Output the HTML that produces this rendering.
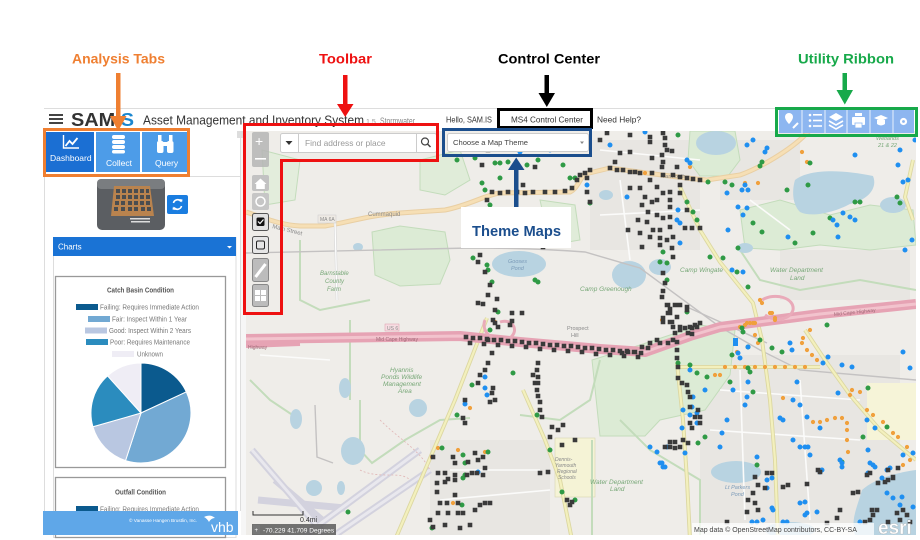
<!DOCTYPE html>
<html><head><meta charset="utf-8"><style>
html,body{margin:0;padding:0;background:#fff;}
body{width:920px;height:540px;overflow:hidden;}
svg{display:block;font-family:"Liberation Sans",Arial,sans-serif;}
</style></head><body>
<svg width="920" height="540" viewBox="0 0 920 540" xmlns="http://www.w3.org/2000/svg">
<defs><clipPath id="mc"><rect x="246" y="131" width="670" height="404"/></clipPath></defs>
<rect width="920" height="540" fill="#fff"/>

<!-- ================= MAP ================= -->
<g clip-path="url(#mc)">
<rect x="246" y="131" width="670" height="404" fill="#efede9"/>
<g fill="#e8e6e2">
<rect x="590" y="140" width="110" height="110"/><rect x="700" y="355" width="200" height="170"/><rect x="430" y="440" width="120" height="95"/><rect x="720" y="140" width="80" height="60"/><rect x="780" y="250" width="130" height="50"/>
</g>
<g fill="#dcebd5" stroke="#c3dcbb" stroke-width="1">
<path d="M372,232 L400,226 L445,232 L450,260 L440,284 L400,286 L375,275 Z"/>
<path d="M690,131 L735,131 L740,160 L728,176 L700,176 L688,160 Z"/>
<path d="M740,210 L780,200 L830,215 L870,205 L913,210 L916,245 L870,250 L820,245 L780,250 L745,248 Z"/>
<path d="M592,360 L640,345 L700,325 L735,330 L730,375 L705,410 L660,420 L645,436 L600,436 Z"/>
<path d="M420,160 L460,150 L470,180 L445,195 L420,190 Z" fill="#e0ecd9"/>
<path d="M262,150 L300,160 L295,200 L265,205 Z" fill="#e3eddc"/>
<path d="M540,200 L575,205 L580,240 L550,245 Z" fill="#e0ecd9"/>
</g>
<rect x="555" y="438" width="40" height="59" fill="#f5f3d6" stroke="#d9d6b0" stroke-width=".6"/>
<rect x="867" y="383" width="52" height="57" fill="#f6f4d8"/>
<g fill="none" stroke="#c3dcbb" stroke-width="2">
<path d="M360,400 L360,450 L372,463 L405,440 L440,420 L470,418"/>
<path d="M350,320 L350,400"/>
<path d="M520,415 L560,420 L590,400 L600,360"/>
<path d="M592,440 L592,535"/>
<path d="M620,420 L650,450 L700,480 L700,535"/>
<path d="M300,240 L300,300 L320,310 L370,300"/>
<path d="M740,250 L760,280 L800,290 L860,280 L916,290"/>
<path d="M250,380 L270,400 L300,420"/>
</g>
<g fill="#b8d3e1">
<ellipse cx="519" cy="264" rx="27" ry="13"/>
<path d="M795,180 C810,168 845,170 873,176 C878,188 868,200 850,204 C835,212 812,218 800,212 C792,204 792,190 795,180Z"/>
<ellipse cx="716" cy="143" rx="20" ry="12"/>
<ellipse cx="606" cy="195" rx="7" ry="5"/>
<ellipse cx="629" cy="275" rx="17" ry="14"/>
<ellipse cx="660" cy="267" rx="11" ry="8"/>
<ellipse cx="745" cy="248" rx="8" ry="5"/>
<ellipse cx="893" cy="205" rx="13" ry="8"/>
<ellipse cx="358" cy="247" rx="5" ry="4"/>
<ellipse cx="353" cy="451" rx="12" ry="14"/>
<ellipse cx="296" cy="419" rx="6" ry="10"/>
<ellipse cx="314" cy="488" rx="8" ry="8"/>
<ellipse cx="341" cy="488" rx="4" ry="7"/>
<ellipse cx="418" cy="408" rx="9" ry="9"/>
<ellipse cx="345" cy="388" rx="6" ry="10"/>
<ellipse cx="736" cy="472" rx="25" ry="11"/>
<path d="M862,490 C875,478 900,472 916,470 L916,535 L855,535 C850,520 858,505 862,490Z"/>
<ellipse cx="790" cy="530" rx="25" ry="8"/>
</g>
<g fill="none" stroke="#d3d2de" stroke-width="7" stroke-linecap="butt">
<path d="M252,450 L325,535"/>
<path d="M275,480 L322,520"/>
<path d="M305,535 L420,450"/>
<path d="M335,535 L430,470"/>
<path d="M258,500 L345,508"/>
</g>
<g fill="none" stroke="#e9e8ee" stroke-width="3">
<path d="M252,450 L325,535"/><path d="M305,535 L420,450"/><path d="M335,535 L430,470"/>
</g>
<g fill="none" stroke="#c4c2c2" stroke-width="1.4">
<path d="M246,253 L470,248 C520,248 560,250 585,252 L640,268 L720,327 L760,350 L800,370 L916,380"/>
<path d="M315,405 L317,457 L333,463"/>
<path d="M687,307 L767,343"/>
</g>
<g fill="none" stroke="#e0b5b5" stroke-width="0.8" stroke-dasharray="2,2">
<path d="M380,420 C400,440 420,450 430,470"/><path d="M360,470 C380,480 400,470 410,480"/>
</g>
<g fill="none" stroke="#fbfbfa" stroke-width="1.6">
<path d="M600,150 L700,160"/><path d="M600,215 L700,210"/><path d="M620,180 L630,260"/>
<path d="M720,390 L860,400"/><path d="M710,430 L860,440"/><path d="M740,370 L745,520"/>
<path d="M800,380 L810,520"/><path d="M450,470 L540,470"/><path d="M440,500 L550,490"/>
<path d="M260,355 L330,360"/><path d="M750,200 L790,230"/>
</g>
<path d="M246,212 C265,218 280,225 300,226 L325,226 C350,222 370,215 400,213 L445,210 C470,205 485,195 500,193 L570,192 C578,188 580,178 585,174 L610,168 C640,172 680,178 707,180 L740,175 C760,168 790,150 805,135 L815,125" fill="none" stroke="#e9cfa3" stroke-width="5"/>
<path d="M246,212 C265,218 280,225 300,226 L325,226 C350,222 370,215 400,213 L445,210 C470,205 485,195 500,193 L570,192 C578,188 580,178 585,174 L610,168 C640,172 680,178 707,180 L740,175 C760,168 790,150 805,135 L815,125" fill="none" stroke="#f6dfb5" stroke-width="3"/>
<g fill="none" stroke="#dcd7a2" stroke-width="4">
<path d="M487,318 L455,400 L425,470 L395,540"/>
<path d="M523,390 L545,440 L560,480 L572,540"/>
<path d="M680,187 L700,230 L720,262 L753,303 L762,340 L770,400 L775,460 L778,540"/>
<path d="M805,330 L825,360 L850,395 L880,430 L916,460"/>
<path d="M677,363 L683,420 L687,480 L690,540"/>
<path d="M680,367 L820,367"/>
<path d="M913,160 L905,197 L913,220"/>
</g>
<g fill="none" stroke="#f3f0bd" stroke-width="2.2">
<path d="M487,318 L455,400 L425,470 L395,540"/>
<path d="M523,390 L545,440 L560,480 L572,540"/>
<path d="M680,187 L700,230 L720,262 L753,303 L762,340 L770,400 L775,460 L778,540"/>
<path d="M805,330 L825,360 L850,395 L880,430 L916,460"/>
<path d="M677,363 L683,420 L687,480 L690,540"/>
<path d="M680,367 L820,367"/>
<path d="M913,160 L905,197 L913,220"/>
</g>
<path d="M335,222 L337,300" stroke="#d8d8d8" stroke-width="2.5" fill="none"/>
<path d="M335,222 L337,300" stroke="#fff" stroke-width="1.2" fill="none"/>
<g fill="none" stroke-linejoin="round">
<path d="M246,339 L460,336 L520,342 L600,349 L645,352 L690,336 L720,327 L820,314 L916,304" stroke="#e6a3b4" stroke-width="10"/>
<path d="M246,339 L460,336 L520,342 L600,349 L645,352 L690,336 L720,327 L820,314 L916,304" stroke="#f2c3cd" stroke-width="3"/>
<path d="M246,346 L300,344" stroke="#e6a3b4" stroke-width="4"/>
<path d="M485,320 C480,332 495,345 510,338 C520,330 512,318 500,322" stroke="#e9aab9" stroke-width="3"/>
<path d="M762,300 C775,292 795,298 793,310 C790,320 775,322 765,315" stroke="#e9aab9" stroke-width="3"/>
</g>
<g font-size="6" fill="#8a8a8a">
<text x="368" y="216">Cummaquid</text>
<text x="272" y="228" transform="rotate(14 272 228)">Main Street</text>
<rect x="318" y="215" width="18" height="8" fill="#eeeae4" stroke="#ccc" stroke-width=".5"/><text x="320" y="221" font-size="5">MA 6A</text>
<rect x="385" y="324" width="14" height="7" fill="#f6dde2" stroke="#d9a" stroke-width=".5"/><text x="387" y="330" font-size="5">US 6</text>
<text x="376" y="341" font-size="5" fill="#a06a78">Mid Cape Highway</text>
<text x="834" y="316" font-size="5" fill="#a06a78" transform="rotate(-6 834 316)">Mid Cape Highway</text>
<text x="248" y="349" font-size="5" fill="#a06a78">Highway</text>
<text x="567" y="330" font-size="5.5">Prospect</text><text x="571" y="337" font-size="5.5">Hill</text>
<text x="662" y="178" font-size="5.5">Yarmouth</text>
</g>
<g font-size="6" fill="#78a878" font-style="italic">
<text x="320" y="275">Barnstable</text><text x="325" y="283">County</text><text x="327" y="291">Farm</text>
<text x="580" y="291" font-size="6.5">Camp Greenough</text>
<text x="680" y="272" font-size="6.5">Camp Wingate</text>
<text x="770" y="272" font-size="6.5">Water Department</text><text x="790" y="280" font-size="6.5">Land</text>
<text x="390" y="372" font-size="6.5">Hyannis</text><text x="381" y="379" font-size="6.5">Ponds Wildlife</text><text x="383" y="386" font-size="6.5">Management</text><text x="398" y="393" font-size="6.5">Area</text>
<text x="590" y="484" font-size="6.5">Water Department</text><text x="610" y="491" font-size="6.5">Land</text>
<text x="555" y="461" font-size="5" fill="#8a8a8a">Dennis-</text><text x="555" y="467" font-size="5" fill="#8a8a8a">Yarmouth</text><text x="557" y="473" font-size="5" fill="#8a8a8a">Regional</text><text x="558" y="479" font-size="5" fill="#8a8a8a">Schools</text>
<text x="876" y="140" font-size="5.5">Wetlands</text><text x="878" y="147" font-size="5.5">21 &amp; 22</text>
</g>
<g font-size="5.5" fill="#7a9ab8" font-style="italic">
<text x="508" y="263">Gooses</text><text x="511" y="270">Pond</text>
<text x="725" y="489">Lt Parkers</text><text x="731" y="496">Pond</text>
</g>

<path fill="none" stroke="#f0a03c" stroke-width="4.2" stroke-linecap="round" d="M725,367h0M735,367h0M745,367h0M755,367h0M765,367h0M775,367h0M785,367h0M795,367h0M805,367h0M817,360h0M812,355h0M807,350h0M802,343h0M803,338h0M810,330h0M775,318h0M770,313h0M762,303h0M745,325h0M750,323h0M755,323h0M755,335h0M737,352h0M715,375h0M720,375h0M783,398h0M813,422h0M820,422h0M827,420h0M835,418h0M842,418h0M847,423h0M847,430h0M847,440h0M848,452h0M852,390h0M860,392h0M867,410h0M873,415h0M883,422h0M893,433h0M898,437h0M907,447h0M910,460h0M903,465h0M850,395h0M758,343h0M758,183h0M745,183h0M802,152h0M807,162h0M690,167h0M645,173h0M760,300h0M772,313h0M775,320h0M747,323h0M753,323h0M740,327h0M662,320h0M495,322h0M465,403h0M470,408h0M438,448h0M458,450h0M485,452h0M453,503h0M432,457h0"/>
<path fill="none" stroke="#2f9a45" stroke-width="5" stroke-linecap="round" d="M457,160h0M475,158h0M495,163h0M500,163h0M508,162h0M527,165h0M538,160h0M563,165h0M570,178h0M575,178h0M500,178h0M482,183h0M485,190h0M490,205h0M473,258h0M487,265h0M488,270h0M492,282h0M538,282h0M535,280h0M490,330h0M498,312h0M678,135h0M762,162h0M760,166h0M810,163h0M708,182h0M725,182h0M732,185h0M787,190h0M808,185h0M687,202h0M693,212h0M697,220h0M753,223h0M762,232h0M738,248h0M813,233h0M795,243h0M830,218h0M855,202h0M860,202h0M897,197h0M900,203h0M590,203h0M663,252h0M660,262h0M667,263h0M667,280h0M710,257h0M723,258h0M737,272h0M748,287h0M687,312h0M742,328h0M743,332h0M760,340h0M748,347h0M772,348h0M782,352h0M827,325h0M732,355h0M748,368h0M750,372h0M678,363h0M690,365h0M697,373h0M707,377h0M730,382h0M753,392h0M705,437h0M698,443h0M868,388h0M863,437h0M887,427h0M842,462h0M757,465h0M513,373h0M472,385h0M457,415h0M537,415h0M550,450h0M562,492h0M575,500h0M442,448h0M488,452h0M463,455h0M465,463h0M465,475h0M463,478h0M462,505h0M432,528h0M348,512h0"/>
<path fill="none" stroke="#1f8ff0" stroke-width="5" stroke-linecap="round" d="M610,145h0M645,132h0M687,160h0M690,163h0M747,145h0M753,140h0M767,148h0M765,152h0M855,155h0M898,165h0M903,182h0M908,180h0M727,193h0M742,190h0M748,190h0M745,185h0M738,207h0M747,208h0M743,215h0M728,230h0M788,237h0M833,220h0M837,225h0M843,213h0M850,217h0M855,220h0M838,237h0M587,185h0M627,197h0M678,210h0M677,220h0M680,223h0M732,270h0M743,272h0M680,243h0M690,370h0M693,397h0M692,407h0M683,410h0M690,415h0M697,413h0M682,428h0M697,423h0M705,390h0M722,433h0M727,420h0M733,390h0M747,397h0M745,405h0M748,382h0M740,358h0M738,353h0M748,347h0M792,350h0M790,343h0M828,357h0M842,365h0M852,367h0M823,363h0M903,352h0M910,368h0M797,382h0M793,400h0M800,405h0M780,418h0M783,420h0M807,417h0M820,428h0M838,393h0M793,440h0M800,447h0M805,447h0M808,447h0M810,455h0M820,472h0M840,460h0M842,467h0M868,450h0M867,420h0M875,428h0M903,455h0M913,453h0M873,465h0M650,447h0M657,452h0M667,447h0M685,453h0M720,447h0M660,463h0M663,467h0M757,457h0M662,463h0M665,467h0M767,480h0M772,478h0M822,470h0M842,463h0M870,463h0M875,467h0M868,473h0M887,470h0M890,468h0M882,478h0M767,488h0M805,502h0M800,503h0M772,508h0M773,510h0M807,513h0M805,515h0M817,512h0M752,522h0M757,522h0M763,520h0M783,522h0M787,522h0M860,522h0M887,493h0M893,498h0M900,505h0M913,507h0M902,497h0M485,377h0M485,388h0M487,395h0M465,404h0M478,472h0M512,140h0M520,152h0M550,150h0M915,140h0M900,150h0M912,240h0M905,250h0"/>
<rect x="733" y="338" width="5" height="8" fill="#1f8ff0"/>
<path fill="none" stroke="#3a3a3a" stroke-width="4.6" stroke-linecap="square" d="M482,165h0M523,185h0M535,167h0M492,192h0M500,193h0M508,192h0M517,192h0M525,193h0M533,192h0M545,192h0M555,192h0M565,191h0M572,188h0M577,180h0M487,200h0M490,210h0M488,222h0M483,215h0M480,255h0M478,262h0M485,272h0M490,285h0M488,295h0M497,299h0M478,303h0M483,304h0M512,313h0M522,313h0M495,310h0M493,320h0M498,327h0M543,247h0M497,142h0M488,150h0M630,135h0M650,137h0M663,133h0M665,138h0M650,142h0M665,145h0M667,150h0M672,151h0M662,155h0M663,162h0M662,167h0M652,158h0M630,152h0M620,153h0M615,162h0M610,168h0M617,170h0M623,170h0M630,172h0M635,172h0M640,173h0M652,173h0M663,175h0M677,167h0M673,175h0M680,177h0M687,178h0M693,179h0M700,180h0M590,170h0M585,173h0M580,175h0M640,188h0M630,188h0M650,180h0M657,187h0M670,192h0M663,193h0M680,185h0M680,193h0M645,197h0M642,205h0M652,202h0M657,200h0M670,200h0M670,207h0M648,212h0M657,215h0M670,217h0M663,218h0M687,210h0M638,220h0M647,222h0M653,230h0M660,230h0M670,227h0M685,228h0M692,228h0M700,228h0M640,233h0M650,237h0M660,238h0M667,240h0M673,237h0M642,247h0M660,245h0M672,248h0M673,257h0M663,273h0M665,283h0M662,297h0M663,291h0M668,305h0M675,305h0M680,305h0M670,313h0M677,317h0M687,310h0M663,322h0M672,322h0M680,327h0M690,327h0M695,325h0M700,323h0M587,192h0M590,202h0M628,230h0M587,178h0M600,140h0M607,133h0
M466,337h0M473,338h0M480,338h0M487,339h0M494,340h0M501,340h0M508,341h0M515,341h0M522,342h0M529,343h0M536,343h0M543,344h0M550,345h0M557,345h0M564,346h0M571,346h0M578,347h0M585,348h0M592,348h0M599,349h0M606,350h0M613,350h0M620,351h0M627,351h0M634,352h0M641,353h0M470,343h0M484,344h0M498,345h0M512,346h0M526,347h0M540,349h0M554,350h0M568,351h0M582,352h0M596,354h0M610,355h0M624,356h0M638,357h0
M495,323h0M510,325h0M512,321h0M488,340h0M492,353h0M488,363h0M485,370h0M480,375h0M478,383h0M493,388h0M492,393h0M495,400h0M490,402h0M465,400h0M463,418h0M465,423h0M538,363h0M537,370h0M538,377h0M538,383h0M537,390h0M538,396h0M540,402h0M540,410h0M542,417h0M533,375h0M535,383h0M552,427h0M558,430h0M563,425h0M550,437h0M562,445h0M575,440h0M540,473h0M548,472h0M567,500h0M572,502h0M570,505h0M433,457h0M453,457h0M455,463h0M468,462h0M478,460h0M475,453h0M483,457h0M445,473h0M455,475h0M455,480h0M445,482h0M448,479h0M438,473h0M472,473h0M477,473h0M483,475h0M485,468h0M467,475h0M437,483h0M437,492h0M440,503h0M447,503h0M455,495h0M458,503h0M475,510h0M480,505h0M485,503h0M490,503h0M448,513h0M458,513h0M463,513h0M438,513h0M430,520h0M433,527h0M445,525h0M460,528h0M470,525h0
M667,305h0M670,309h0M677,305h0M687,307h0M668,313h0M670,322h0M663,318h0M673,327h0M680,330h0M685,328h0M692,328h0M697,327h0M688,333h0M692,334h0M675,333h0M673,340h0M677,342h0M668,343h0M660,343h0M657,340h0M650,343h0M648,348h0M635,352h0M628,352h0M622,353h0M642,347h0M677,350h0M677,358h0M678,367h0M678,378h0M682,383h0M687,385h0M688,392h0M690,397h0M690,407h0M698,410h0M695,417h0M700,417h0M690,423h0M692,428h0M700,423h0M670,442h0M675,442h0M683,440h0M688,443h0M670,447h0M675,448h0M680,447h0M665,447h0M767,473h0M772,473h0M818,470h0M867,475h0M870,473h0M888,470h0M898,468h0M893,477h0
M755,477h0M758,485h0M765,488h0M753,493h0M748,500h0M755,503h0M758,510h0M747,512h0M727,522h0M788,485h0M783,487h0M807,484h0M820,472h0M827,523h0M837,518h0M840,510h0M853,493h0M858,492h0M878,483h0M885,482h0M888,480h0M893,478h0M872,510h0M873,515h0M870,520h0M865,522h0M897,513h0M903,510h0M907,515h0M900,520h0M910,522h0M888,522h0M877,510h0"/>

<path d="M253,511 v4 h50 v-4" fill="none" stroke="#333" stroke-width="1"/>
<text x="300" y="522" font-size="7" fill="#333">0.4mi</text>
<rect x="252" y="524" width="84" height="11" fill="#5a5a5a" opacity=".85"/>
<rect x="253" y="525" width="7" height="9" fill="#777"/>
<text x="254.5" y="532" font-size="6" fill="#fff">+</text>
<text x="263" y="532.5" font-size="6.6" fill="#fff">-70.229 41.709 Degrees</text>
<rect x="692" y="523" width="182" height="12" fill="#fff" opacity=".75"/>
<text x="694" y="532" font-size="7" fill="#444">Map data © OpenStreetMap contributors, CC-BY-SA</text>
<text x="878" y="534" font-size="19" font-weight="bold" fill="#fff" stroke="#aaa" stroke-width=".3">esri</text>
</g>

<rect x="252" y="132" width="17" height="35" rx="2" fill="#b5b5b5" opacity=".85"/>
<text x="255" y="146" font-size="14" fill="#fff">+</text>
<rect x="255" y="158" width="11" height="1.6" fill="#fff"/>
<rect x="252" y="175" width="17" height="16" rx="2" fill="#c2c2c2"/>
<path d="M254.5,184 L260.5,178.5 L266.5,184 H264.8 V189 H256.2 V184 Z" fill="#fff"/>
<rect x="252" y="193" width="17" height="17" rx="2" fill="#c6c6c6"/>
<circle cx="260.5" cy="201.5" r="4.5" fill="none" stroke="#fff" stroke-width="1.5"/>
<rect x="252.5" y="213.5" width="16" height="17" rx="2" fill="#e2e2e2" stroke="#555" stroke-width="1"/>
<rect x="256.5" y="217.5" width="8" height="8.5" rx="1.5" fill="#111"/>
<path d="M258,221.5 l2,2 l3.5,-4" fill="none" stroke="#fff" stroke-width="1.2"/>
<rect x="252.5" y="236.5" width="16" height="17" rx="2" fill="#e6e6e6" stroke="#555" stroke-width="1"/>
<rect x="256.5" y="241" width="8" height="8" rx="1.5" fill="none" stroke="#222" stroke-width="1"/>
<rect x="252.5" y="258.5" width="16" height="23" rx="2" fill="#bcbcbc" stroke="#888" stroke-width="1"/>
<path d="M255.5,277 L265.5,264" stroke="#fff" stroke-width="3"/>
<rect x="252.5" y="284.5" width="16" height="22" rx="2" fill="#bcbcbc" stroke="#888" stroke-width="1"/>
<g fill="#fff"><rect x="255" y="290" width="5" height="5"/><rect x="261" y="290" width="5" height="5"/><rect x="255" y="296" width="5" height="5"/><rect x="261" y="296" width="5" height="5"/></g>

<rect x="280.5" y="133.5" width="156" height="19" rx="2" fill="#fff" stroke="#ccc"/>
<line x1="298.5" y1="133.5" x2="298.5" y2="152.5" stroke="#ccc"/>
<line x1="416.5" y1="133.5" x2="416.5" y2="152.5" stroke="#ccc"/>
<path d="M285.5,141 h7 l-3.5,4 z" fill="#333"/>
<text x="305" y="146" font-size="8.4" fill="#999">Find address or place</text>
<circle cx="425" cy="141.5" r="3.5" fill="none" stroke="#444" stroke-width="1.2"/>
<path d="M427.5,144 l3,3" stroke="#444" stroke-width="1.5"/>

<rect x="447.5" y="133.5" width="141" height="18" rx="2" fill="#fff" stroke="#ccc"/>
<text x="453" y="145" font-size="7.6" fill="#444">Choose a Map Theme</text>
<path d="M580,141.5 h4 l-2,2.5 z" fill="#888"/>

<!-- ================= LEFT PANEL ================= -->
<rect x="43" y="131" width="203" height="404" fill="#fff"/>
<line x1="44.5" y1="131" x2="44.5" y2="511" stroke="#ddd"/>
<line x1="240.5" y1="131" x2="240.5" y2="511" stroke="#ddd"/>
<rect x="241" y="131" width="5" height="404" fill="#f6f6f6"/>
<rect x="237" y="131" width="7" height="7" fill="#ddd"/>
<line x1="45" y1="176.5" x2="240" y2="176.5" stroke="#ddd"/>
<rect x="46" y="132" width="48" height="40" fill="#1b6fd3"/>
<rect x="96" y="132" width="44" height="40" fill="#4d9ce8"/>
<rect x="142" y="132" width="45" height="40" fill="#4d9ce8"/>
<path d="M63.5,135 V148 H79" fill="none" stroke="#fff" stroke-width="1.4"/>
<path d="M65.5,146 l4,-5 l3,3 l5,-6" fill="none" stroke="#fff" stroke-width="1.8"/>
<text x="50" y="161" font-size="8.5" fill="#fff">Dashboard</text>
<g fill="#fff"><rect x="112" y="135" width="13" height="4" rx="2"/><rect x="112" y="140" width="13" height="4" rx="2"/><rect x="112" y="145" width="13" height="4" rx="2"/><rect x="112" y="150" width="13" height="3.5" rx="1.7"/></g>
<text x="106" y="166" font-size="8.5" fill="#fff">Collect</text>
<g fill="#fff"><rect x="157" y="141" width="6.5" height="12" rx="2"/><rect x="167" y="141" width="6.5" height="12" rx="2"/><rect x="158" y="135" width="3.5" height="6"/><rect x="169" y="135" width="3.5" height="6"/><rect x="162" y="142" width="6" height="4"/></g>
<text x="155" y="166" font-size="8.5" fill="#fff">Query</text>

<rect x="97" y="179" width="68" height="51" rx="5" fill="#5b5e62"/>
<rect x="97" y="179" width="68" height="10" rx="4" fill="#7a7d80"/>
<path d="M114,186 L150,186 L154,216 L111,216 Z" fill="#b9834e"/>
<g fill="#4a4d50">
<rect x="116" y="189" width="4" height="4"/><rect x="122" y="189" width="4" height="4"/><rect x="128" y="189" width="4" height="4"/><rect x="134" y="189" width="4" height="4"/><rect x="140" y="189" width="4" height="4"/><rect x="146" y="189" width="3" height="4"/>
<rect x="116" y="195" width="4" height="4"/><rect x="122" y="195" width="4" height="4"/><rect x="128" y="195" width="4" height="4"/><rect x="134" y="195" width="4" height="4"/><rect x="140" y="195" width="4" height="4"/><rect x="146" y="195" width="4" height="4"/>
<rect x="115" y="201" width="4" height="4"/><rect x="121" y="201" width="4" height="4"/><rect x="128" y="201" width="4" height="4"/><rect x="134" y="201" width="4" height="4"/><rect x="140" y="201" width="4" height="4"/><rect x="146" y="201" width="4" height="4"/>
<rect x="114" y="207" width="4" height="4"/><rect x="121" y="207" width="4" height="4"/><rect x="128" y="207" width="4" height="4"/><rect x="134" y="207" width="4" height="4"/><rect x="141" y="207" width="4" height="4"/><rect x="147" y="207" width="4" height="4"/>
</g>
<rect x="130" y="218" width="20" height="1.5" fill="#ddd"/><rect x="131" y="221" width="19" height="1.5" fill="#ddd"/>
<rect x="167" y="195" width="21" height="19" rx="2" fill="#1a7de0"/>
<path d="M173.5,203 a4.2,4.2 0 0 1 7.5,-1.5" fill="none" stroke="#fff" stroke-width="1.6"/>
<path d="M181.5,206 a4.2,4.2 0 0 1 -7.5,1.5" fill="none" stroke="#fff" stroke-width="1.6"/>
<path d="M179.5,199 l3,0.5 l-0.5,3 z M175.5,210 l-3,-0.5 l0.5,-3 z" fill="#fff"/>

<rect x="53.5" y="237.5" width="182.5" height="300" fill="#fff" stroke="#ddd"/>
<rect x="53" y="237" width="183" height="19" fill="#1a73d5"/>
<text x="58" y="249.5" font-size="8" fill="#fff">Charts</text>
<path d="M227,246 h5 l-2.5,2.5 z" fill="#fff"/>

<rect x="55.5" y="276.5" width="170" height="191" fill="#fff" stroke="#999" stroke-width="1.3"/>
<text x="107" y="292.5" font-size="7" font-weight="bold" fill="#555" textLength="67" lengthAdjust="spacingAndGlyphs">Catch Basin Condition</text>
<g font-size="7" fill="#777">
<rect x="76" y="304" width="22" height="6" fill="#0b5a8e"/><text x="100" y="309.5" textLength="99" lengthAdjust="spacingAndGlyphs">Failing: Requires Immediate Action</text>
<rect x="88" y="316" width="22" height="6" fill="#72a9d3"/><text x="112" y="321.5" textLength="75" lengthAdjust="spacingAndGlyphs">Fair: Inspect Within 1 Year</text>
<rect x="85" y="327.5" width="22" height="6" fill="#b9c7e1"/><text x="109" y="333" textLength="82" lengthAdjust="spacingAndGlyphs">Good: Inspect Within 2 Years</text>
<rect x="86" y="339" width="22" height="6" fill="#2b8cbe"/><text x="110" y="344.5" textLength="80" lengthAdjust="spacingAndGlyphs">Poor: Requires Maintenance</text>
<rect x="112" y="351" width="22" height="6" fill="#efedf5"/><text x="137" y="356.5" textLength="26" lengthAdjust="spacingAndGlyphs">Unknown</text>
</g>
<g stroke="#fff" stroke-width="1">
<path d="M141,413 L141,363 A50,50 0 0 1 186.3,391.9 Z" fill="#0b5a8e"/>
<path d="M141,413 L186.3,391.9 A50,50 0 0 1 125.55,460.55 Z" fill="#72a9d3"/>
<path d="M141,413 L125.55,460.55 A50,50 0 0 1 92.93,426.78 Z" fill="#b9c7e1"/>
<path d="M141,413 L92.93,426.78 A50,50 0 0 1 107.54,375.84 Z" fill="#2b8cbe"/>
<path d="M141,413 L107.54,375.84 A50,50 0 0 1 141,363 Z" fill="#efedf5"/>
</g>
<rect x="55.5" y="477.5" width="170" height="60" fill="#fff" stroke="#999" stroke-width="1.3"/>
<text x="115" y="494.5" font-size="7" font-weight="bold" fill="#555" textLength="51" lengthAdjust="spacingAndGlyphs">Outfall Condition</text>
<rect x="76" y="506" width="22" height="6" fill="#0b5a8e"/>
<text x="100" y="511.5" font-size="7" fill="#777" textLength="99" lengthAdjust="spacingAndGlyphs">Failing: Requires Immediate Action</text>

<rect x="43" y="511" width="195" height="24" fill="#5fa7e8"/>
<text x="129" y="522" font-size="4.3" fill="#fff" textLength="68" lengthAdjust="spacingAndGlyphs">© Vanasse Hangen Brustlin, Inc.</text>
<path d="M204,517 c4,-2 8,-2 11,1 c-3,0 -5,2 -6,4 c-1,-2 -3,-4 -5,-5z" fill="#fff"/>
<text x="211" y="532" font-size="14" fill="#fff">vhb</text>

<!-- ================= HEADER ================= -->
<rect x="44" y="108" width="872" height="23" fill="#fff"/>
<line x1="44" y1="108.5" x2="916" y2="108.5" stroke="#ddd"/>
<g fill="#444"><rect x="49" y="114" width="14" height="2"/><rect x="49" y="118" width="14" height="2"/><rect x="49" y="122" width="14" height="2"/></g>
<text x="71" y="126" font-size="18" font-weight="900" textLength="63" lengthAdjust="spacingAndGlyphs"><tspan fill="#333">SAM</tspan><tspan fill="#1a86cf">IS</tspan></text>
<text x="143" y="124.5" font-size="12.5" fill="#333" textLength="221" lengthAdjust="spacingAndGlyphs">Asset Management and Inventory System</text>
<text x="366" y="124" font-size="7" fill="#999">1.5</text>
<text x="380" y="124" font-size="8.8" fill="#888" textLength="35" lengthAdjust="spacingAndGlyphs">Stormwater</text>
<text x="446" y="122.5" font-size="8.4" fill="#333" textLength="46" lengthAdjust="spacingAndGlyphs">Hello, SAM.IS</text>
<text x="511" y="122.5" font-size="8.4" fill="#333" textLength="72" lengthAdjust="spacingAndGlyphs">MS4 Control Center</text>
<text x="597" y="122.5" font-size="8.4" fill="#333" textLength="44" lengthAdjust="spacingAndGlyphs">Need Help?</text>
<rect x="779" y="110" width="135" height="23" fill="#8db6f0"/>
<g stroke="#fff" stroke-width="1" opacity=".8"><line x1="802" y1="110" x2="802" y2="133"/><line x1="825" y1="110" x2="825" y2="133"/><line x1="847" y1="110" x2="847" y2="133"/><line x1="870" y1="110" x2="870" y2="133"/><line x1="893" y1="110" x2="893" y2="133"/></g>
<path d="M789,113 a4,4 0 0 1 4,4 c0,3 -4,7 -4,7 c0,0 -4,-4 -4,-7 a4,4 0 0 1 4,-4z" fill="#fff"/>
<path d="M793,128 l5,-5" stroke="#fff" stroke-width="2"/>
<g fill="#fff"><circle cx="810" cy="115" r="1.3"/><circle cx="810" cy="120.5" r="1.3"/><circle cx="810" cy="126" r="1.3"/><rect x="813" y="114" width="9" height="1.6"/><rect x="813" y="119.7" width="9" height="1.6"/><rect x="813" y="125.2" width="9" height="1.6"/></g>
<path d="M829,117 l7,-4 l7,4 l-7,4z" fill="#fff"/>
<path d="M829,121 l7,4 l7,-4 M829,125 l7,4 l7,-4" fill="none" stroke="#fff" stroke-width="1.6"/>
<g fill="#fff"><rect x="852" y="117" width="13" height="8" rx="1"/><rect x="855" y="113" width="7" height="3"/><rect x="855" y="123" width="7" height="5" stroke="#8db6f0" stroke-width=".8"/></g>
<path d="M874,118 l7,-3 l7,3 l-7,3z" fill="#fff"/>
<path d="M877,120 v4 q4,3 8,0 v-4" fill="#fff"/>
<circle cx="903.5" cy="121.5" r="3.6" fill="#fff"/><circle cx="903.5" cy="121.5" r="1.4" fill="#8db6f0"/>

<!-- ================= ANNOTATIONS ================= -->
<text x="72" y="63.5" font-size="14" font-weight="bold" fill="#ef7f31" textLength="93" lengthAdjust="spacingAndGlyphs">Analysis Tabs</text>
<rect x="116" y="73" width="4.5" height="44" fill="#ef7f31"/>
<path d="M110,116 H126.5 L118.2,131 Z" fill="#ef7f31"/>
<rect x="44.5" y="129.5" width="144" height="46" fill="none" stroke="#ef7f31" stroke-width="3"/>
<text x="319" y="63.5" font-size="14" font-weight="bold" fill="#ee1111" textLength="53" lengthAdjust="spacingAndGlyphs">Toolbar</text>
<rect x="343" y="75" width="4.5" height="30" fill="#ee1111"/>
<path d="M337,104 H353.5 L345.2,117 Z" fill="#ee1111"/>
<path d="M244.5,124.5 H437.5 V160.5 H281.5 V313.5 H244.5 Z" fill="none" stroke="#ee1111" stroke-width="3"/>
<text x="498" y="63.5" font-size="14" font-weight="bold" fill="#000" textLength="102" lengthAdjust="spacingAndGlyphs">Control Center</text>
<rect x="544.5" y="75" width="4.5" height="19" fill="#000"/>
<path d="M538.5,93 H555 L546.8,107 Z" fill="#000"/>
<rect x="498.5" y="109.5" width="93" height="18" fill="none" stroke="#000" stroke-width="3"/>
<text x="798" y="63.5" font-size="14" font-weight="bold" fill="#17a94a" textLength="96" lengthAdjust="spacingAndGlyphs">Utility Ribbon</text>
<rect x="842.5" y="73" width="4.5" height="18" fill="#17a94a"/>
<path d="M836.5,90 H853 L844.8,104.5 Z" fill="#17a94a"/>
<rect x="776.5" y="108.5" width="140" height="27" fill="none" stroke="#17a94a" stroke-width="3"/>
<rect x="443.5" y="129.5" width="147" height="26" fill="none" stroke="#1b4e8d" stroke-width="3"/>
<rect x="514" y="169" width="4.5" height="39" fill="#1b4e8d"/>
<path d="M508,170 H524.5 L516.2,157.5 Z" fill="#1b4e8d"/>
<rect x="461" y="207" width="110" height="41" fill="#fff"/>
<text x="472" y="236" font-size="15" font-weight="bold" fill="#1b4e8d" textLength="89" lengthAdjust="spacingAndGlyphs">Theme Maps</text>
</svg>
</body></html>
